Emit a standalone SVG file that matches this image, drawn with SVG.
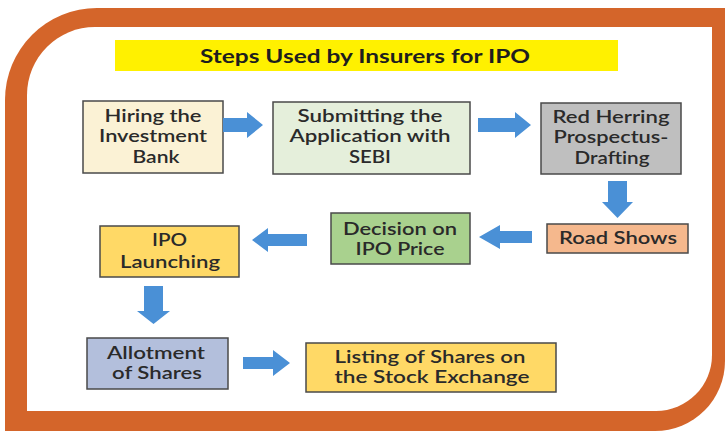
<svg xmlns="http://www.w3.org/2000/svg" width="726" height="432" viewBox="0 0 726 432">
  <style>
    .frame { fill: #D4652A; }
    .inner { fill: #FFFFFF; }
    .box { stroke: #4A4A4A; stroke-width: 1.5; }
    .lbl { font-family: Lato, "Liberation Sans", sans-serif; font-size: 16.5px; font-weight: 600; fill: #2A2A2A; text-anchor: middle; }
    .ttl { font-family: Lato, "Liberation Sans", sans-serif; font-size: 18px; font-weight: 700; fill: #1E1E1E; text-anchor: middle; }
    .arrow { fill: #4A90D6; }
  </style>

  <!-- rounded orange frame -->
  <path class="frame" d="M5,100 A92,92 0 0 1 97,8 L725,8 L725,361 A70,70 0 0 1 655,431 L5,431 Z"/>
  <path class="inner" d="M27,95 A68,68 0 0 1 95,27 L712,27 L712,355 A56,56 0 0 1 656,411 L27,411 Z"/>

  <!-- heading -->
  <g id="title">
    <rect x="115" y="40" width="503" height="31" fill="#FFF100"/>
    <text class="ttl" x="365" y="63" textLength="330" lengthAdjust="spacingAndGlyphs">Steps Used by Insurers for IPO</text>
  </g>

  <g id="hiring">
    <rect class="box" x="83" y="101" width="140" height="72" fill="#FBF2D5"/>
    <text class="lbl" x="153" y="122" textLength="97" lengthAdjust="spacingAndGlyphs">Hiring the</text>
    <text class="lbl" x="153" y="142" textLength="108" lengthAdjust="spacingAndGlyphs">Investment</text>
    <text class="lbl" x="156" y="163" textLength="47" lengthAdjust="spacingAndGlyphs">Bank</text>
  </g>

  <g id="submitting">
    <rect class="box" x="273" y="102" width="197" height="72" fill="#E5EFDB"/>
    <text class="lbl" x="370" y="122" textLength="145" lengthAdjust="spacingAndGlyphs">Submitting the</text>
    <text class="lbl" x="370" y="142" textLength="161" lengthAdjust="spacingAndGlyphs">Application with</text>
    <text class="lbl" x="370" y="163" textLength="42" lengthAdjust="spacingAndGlyphs">SEBI</text>
  </g>

  <g id="red-herring">
    <rect class="box" x="541" y="103" width="140" height="71" fill="#BFBFBF"/>
    <text class="lbl" x="611" y="123" textLength="117" lengthAdjust="spacingAndGlyphs">Red Herring</text>
    <text class="lbl" x="611" y="143" textLength="115" lengthAdjust="spacingAndGlyphs">Prospectus-</text>
    <text class="lbl" x="612" y="164" textLength="75" lengthAdjust="spacingAndGlyphs">Drafting</text>
  </g>

  <g id="road-shows">
    <rect class="box" x="547" y="224" width="141" height="29" fill="#F5B88D"/>
    <text class="lbl" x="618" y="244" textLength="118" lengthAdjust="spacingAndGlyphs">Road Shows</text>
  </g>

  <g id="price-decision">
    <rect class="box" x="331" y="213" width="139" height="51" fill="#A9D18E"/>
    <text class="lbl" x="400" y="235" textLength="114" lengthAdjust="spacingAndGlyphs">Decision on</text>
    <text class="lbl" x="400" y="255" textLength="89" lengthAdjust="spacingAndGlyphs">IPO Price</text>
  </g>

  <g id="ipo-launch">
    <rect class="box" x="100" y="226" width="139" height="51" fill="#FFD966"/>
    <text class="lbl" x="169.5" y="246" textLength="35" lengthAdjust="spacingAndGlyphs">IPO</text>
    <text class="lbl" x="170" y="268" textLength="100" lengthAdjust="spacingAndGlyphs">Launching</text>
  </g>

  <g id="allotment">
    <rect class="box" x="87" y="338" width="141" height="51" fill="#B3BFDC"/>
    <text class="lbl" x="156" y="359" textLength="98" lengthAdjust="spacingAndGlyphs">Allotment</text>
    <text class="lbl" x="157" y="379" textLength="90" lengthAdjust="spacingAndGlyphs">of Shares</text>
  </g>

  <g id="listing">
    <rect class="box" x="306" y="343" width="250" height="49" fill="#FFD966"/>
    <text class="lbl" x="430" y="363" textLength="191" lengthAdjust="spacingAndGlyphs">Listing of Shares on</text>
    <text class="lbl" x="432" y="383" textLength="195" lengthAdjust="spacingAndGlyphs">the Stock Exchange</text>
  </g>

  <!-- block arrows between steps -->
  <g id="connectors">
    <polygon class="arrow" points="223,118 247,118 247,112 263,125 247,138 247,132 223,132"/>
    <polygon class="arrow" points="478,118 515,118 515,112 531,125 515,138 515,132 478,132"/>
    <polygon class="arrow" points="608,181 627,181 627,202 633,202 617.5,218 602,202 608,202"/>
    <polygon class="arrow" points="532,231 500,231 500,225 479,237 500,249 500,243 532,243"/>
    <polygon class="arrow" points="307,234 268,234 268,228 252,240 268,252 268,246 307,246"/>
    <polygon class="arrow" points="144,286 163,286 163,311 170,311 153.5,324 137,311 144,311"/>
    <polygon class="arrow" points="243,357 273,357 273,350 290,363 273,376 273,369 243,369"/>
  </g>
</svg>
